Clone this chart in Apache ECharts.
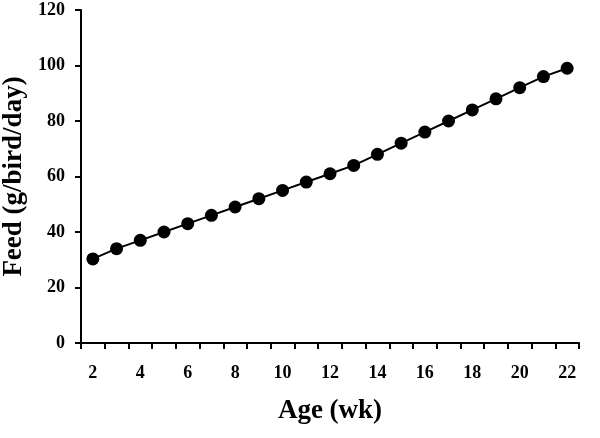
<!DOCTYPE html>
<html>
<head>
<meta charset="utf-8">
<script src="https://cdn.jsdelivr.net/npm/echarts@6/dist/echarts.min.js"></script>
<style>
  html, body { margin: 0; padding: 0; background: #fff; }
  #main { width: 600px; height: 438px; }
</style>
</head>
<body>
<div id="main"></div>
<script>
// weeks of age and feed intake (g/bird/day)
var weeks = ['2','3','4','5','6','7','8','9','10','11','12','13','14','15','16','17','18','19','20','21','22'];
var feed = [30.3, 34, 37, 40, 43, 46, 49, 52, 55, 58, 61, 64, 68, 72, 76, 80, 84, 88, 92, 96, 99];

var serif = 'Liberation Serif';
var myChart = echarts.init(document.getElementById('main'));
myChart.setOption({
    backgroundColor: '#fff',
    animation: false,
    grid: { left: 81, right: 21, top: 10, bottom: 95, containLabel: false, outerBoundsMode: 'none' },
    xAxis: {
        type: 'category',
        data: weeks,
        boundaryGap: true,
        name: 'Age (wk)',
        nameLocation: 'middle',
        nameGap: 55,
        nameTextStyle: { fontFamily: serif, fontWeight: 'bold', fontSize: 27, color: '#000' },
        axisLine: { lineStyle: { color: '#000', width: 2 } },
        axisTick: { show: true, interval: 0, length: 6, lineStyle: { color: '#000', width: 2 } },
        axisLabel: { interval: 1, margin: 21, fontFamily: serif, fontWeight: 'bold', fontSize: 18, color: '#000' },
        splitLine: { show: false }
    },
    yAxis: {
        type: 'value',
        min: 0,
        max: 120,
        interval: 20,
        name: 'Feed (g/bird/day)',
        nameLocation: 'middle',
        nameGap: 47,
        nameTextStyle: { fontFamily: serif, fontWeight: 'bold', fontSize: 27, color: '#000' },
        axisLine: { show: true, lineStyle: { color: '#000', width: 2 } },
        axisTick: { show: true, length: 6, lineStyle: { color: '#000', width: 2 } },
        axisLabel: { margin: 16, fontFamily: serif, fontWeight: 'bold', fontSize: 18, color: '#000' },
        splitLine: { show: false }
    },
    series: [{
        type: 'line',
        data: feed,
        symbol: 'circle',
        symbolSize: 13,
        itemStyle: { color: '#000' },
        lineStyle: { color: '#000', width: 2 }
    }]
});
</script>
</body>
</html>
